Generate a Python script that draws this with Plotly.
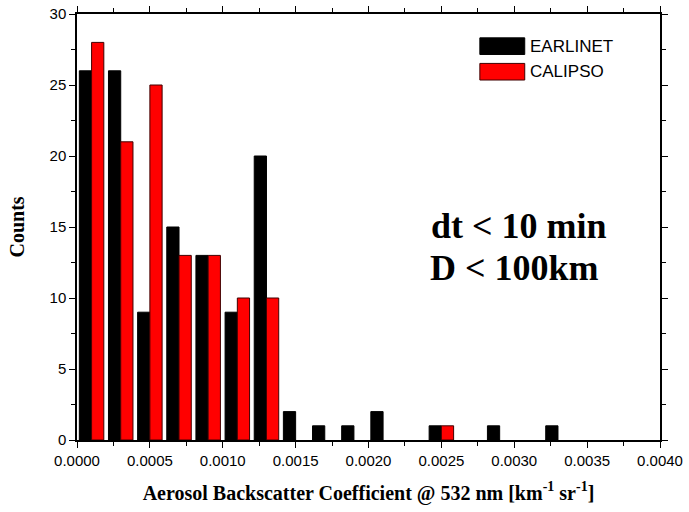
import plotly.graph_objects as go

bin_centers = [0.0001, 0.0003, 0.0005, 0.0007, 0.0009, 0.0011, 0.0013, 0.0015, 0.0017,
               0.0019, 0.0021, 0.0023, 0.0025, 0.0027, 0.0029, 0.0031, 0.0033]
earlinet = [26, 26, 9, 15, 13, 9, 20, 2, 1, 1, 2, 0, 1, 0, 1, 0, 1]
calipso = [28, 21, 25, 13, 13, 10, 10, 0, 0, 0, 0, 0, 1, 0, 0, 0, 0]
x_ticks = [0.0, 0.0005, 0.0010, 0.0015, 0.0020, 0.0025, 0.0030, 0.0035, 0.0040]
y_ticks = [0, 5, 10, 15, 20, 25, 30]

SANS = "Liberation Sans, Arial, sans-serif"
SERIF = "Liberation Serif, Times New Roman, serif"


def edge_widths(vals):
    return [1 if v > 0 else 0 for v in vals]


fig = go.Figure()
fig.add_trace(go.Bar(x=bin_centers, y=earlinet, name="EARLINET",
                     marker=dict(color="black",
                                 line=dict(color="black", width=edge_widths(earlinet))),
                     showlegend=False))
fig.add_trace(go.Bar(x=bin_centers, y=calipso, name="CALIPSO",
                     marker=dict(color="#ff0000",
                                 line=dict(color="#400000", width=edge_widths(calipso))),
                     showlegend=False))

axis_common = dict(showline=True, linecolor="black", linewidth=1.5, mirror="ticks",
                   ticks="outside", ticklen=6, tickwidth=1.2, tickcolor="black",
                   showgrid=False, zeroline=False, automargin=False,
                   tickfont=dict(family=SANS, size=15, color="black"))

fig.update_layout(
    width=689, height=512,
    margin=dict(l=77, r=29, t=14, b=72),
    paper_bgcolor="white", plot_bgcolor="white",
    barmode="group", bargap=0.16, bargroupgap=0,
    xaxis=dict(range=[0, 0.004], tickvals=x_ticks, tickformat=".4f",
               minor=dict(dtick=0.00025, tick0=0, ticks="outside", ticklen=4,
                          tickcolor="black", tickwidth=1),
               title=dict(text="<b>Aerosol Backscatter Coefficient @ 532 nm [km<sup>-1</sup> sr<sup>-1</sup>]</b>",
                          font=dict(family=SERIF, size=20, color="black"), standoff=18),
               **axis_common),
    yaxis=dict(range=[0, 30], tickvals=y_ticks,
               minor=dict(dtick=2.5, tick0=0, ticks="outside", ticklen=4,
                          tickcolor="black", tickwidth=1),
               title=dict(text="<b>Counts</b>", font=dict(family=SERIF, size=20, color="black"),
                          standoff=20),
               **axis_common),
)

# legend drawn manually (wide swatches, as in the reference)
legend_items = [("EARLINET", "black", "black", 0.944, 0.905),
                ("CALIPSO", "#ff0000", "#400000", 0.884, 0.845)]
for label, fill, edge, y1, y0 in legend_items:
    fig.add_shape(type="rect", xref="paper", yref="paper", x0=0.691, x1=0.768,
                  y0=y0, y1=y1, fillcolor=fill, line=dict(color=edge, width=1))
    fig.add_annotation(xref="paper", yref="paper", x=0.774, y=(y0 + y1) / 2,
                       text=label, showarrow=False, xanchor="left", yanchor="middle",
                       font=dict(family=SANS, size=17, color="black"))

fig.add_annotation(xref="paper", yref="paper", x=0.604, y=0.502, text="<b>dt &lt; 10 min</b>",
                   showarrow=False, xanchor="left", yanchor="middle",
                   font=dict(family=SERIF, size=36, color="black"))
fig.add_annotation(xref="paper", yref="paper", x=0.602, y=0.403, text="<b>D &lt; 100km</b>",
                   showarrow=False, xanchor="left", yanchor="middle",
                   font=dict(family=SERIF, size=36, color="black"))

fig.write_html("out.html")
